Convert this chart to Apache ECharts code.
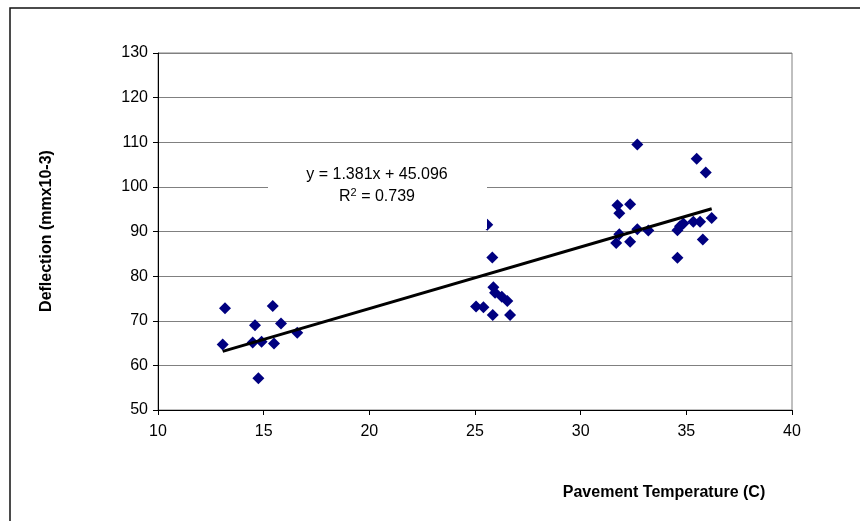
<!DOCTYPE html>
<html>
<head>
<meta charset="utf-8">
<script src="https://cdn.jsdelivr.net/npm/echarts@6/dist/echarts.min.js"></script>
<style>
  html, body { margin: 0; padding: 0; background: #fff; }
  #chart { width: 860px; height: 521px; }
</style>
</head>
<body>
<div id="chart"></div>
<script>
// Pavement temperature (C) and measured deflection (mm x 10^-3)
const temperature = [
  13.17, 15.43, 14.59, 15.82, 13.06, 14.48, 14.90, 15.49, 16.59, 14.75,
  25.58, 25.82, 25.87, 25.95, 26.27, 26.53, 25.05, 25.40, 25.84, 26.66,
  32.68, 35.49, 35.92, 31.74, 32.34, 31.83, 31.83, 31.68, 32.34, 32.68,
  33.20, 34.58, 34.70, 34.86, 35.33, 35.65, 36.20, 35.78, 34.58
];
const deflection = [
  72.8, 73.3, 69.0, 69.4, 64.7, 65.1, 65.3, 64.9, 67.3, 57.1,
  91.5, 84.2, 77.5, 76.3, 75.4, 74.4, 73.2, 73.0, 71.3, 71.3,
  109.5, 106.3, 103.2, 95.9, 96.1, 94.1, 89.4, 87.4, 87.7, 90.5,
  90.2, 90.3, 91.2, 91.8, 92.2, 92.2, 93.0, 88.2, 84.1
];

// Linear trend line
const slope = 1.381;
const intercept = 45.096;
const rSquared = 0.739;

// Axis ranges
const xTicks = { min: 10, max: 40, step: 5 };
const yTicks = { min: 50, max: 130, step: 10 };

const points = temperature.map((t, i) => [t, deflection[i]]);
const tMin = Math.min(...temperature);
const tMax = Math.max(...temperature);
const trend = [tMin, tMax].map(t => [t, slope * t + intercept]);

const chart = echarts.init(document.getElementById('chart'), null, { renderer: 'canvas' });
const font = 'Liberation Sans, Arial, sans-serif';

chart.setOption({
  animation: false,
  backgroundColor: '#ffffff',
  grid: { left: 158, right: 68, top: 53, bottom: 111, show: true, borderColor: '#808080', borderWidth: 1 },
  xAxis: {
    type: 'value',
    min: xTicks.min, max: xTicks.max, interval: xTicks.step,
    axisLine: { show: true, onZero: false, lineStyle: { color: '#000', width: 1 } },
    axisTick: { show: true, inside: false, length: 5, lineStyle: { color: '#000' } },
    axisLabel: { color: '#000', fontSize: 16, fontFamily: font, margin: 14 },
    splitLine: { show: false }
  },
  yAxis: {
    type: 'value',
    min: yTicks.min, max: yTicks.max, interval: yTicks.step,
    axisLine: { show: true, onZero: false, lineStyle: { color: '#000', width: 1 } },
    axisTick: { show: true, inside: false, length: 5, lineStyle: { color: '#000' } },
    axisLabel: { color: '#000', fontSize: 16, fontFamily: font, margin: 10 },
    splitLine: { show: true, lineStyle: { color: '#808080', width: 1 } }
  },
  series: [
    {
      type: 'scatter',
      data: points,
      symbol: 'diamond',
      symbolSize: 12,
      itemStyle: { color: '#000080', opacity: 1 },
      z: 2
    },
    {
      type: 'line',
      data: trend,
      symbol: 'none',
      lineStyle: { color: '#000', width: 3 },
      z: 3
    }
  ],
  graphic: [
    {
      type: 'rect',
      shape: { x: 10, y: 8, width: 900, height: 600 },
      style: { fill: 'none', stroke: '#111', lineWidth: 1.5 },
      z: 0, silent: true
    },
    {
      type: 'rect',
      shape: { x: 268, y: 162, width: 219, height: 67 },
      style: { fill: '#ffffff' },
      z: 10, silent: true
    },
    {
      type: 'text',
      x: 377, y: 175,
      style: {
        text: 'y = ' + slope.toFixed(3) + 'x + ' + intercept.toFixed(3),
        fill: '#000', font: '16px ' + font, align: 'center', verticalAlign: 'middle'
      },
      z: 11
    },
    {
      type: 'text',
      x: 377, y: 197,
      style: {
        text: 'R{sup|2} = ' + rSquared.toFixed(3),
        rich: { sup: { fontSize: 11, verticalAlign: 'top', padding: [0, 0, 8, 0], fill: '#000', fontFamily: font } },
        fill: '#000', font: '16px ' + font, align: 'center', verticalAlign: 'middle'
      },
      z: 11
    },
    {
      type: 'text',
      x: 47, y: 231,
      rotation: Math.PI / 2,
      style: {
        text: 'Deflection (mmx10-3)',
        fill: '#000', font: 'bold 16px ' + font, align: 'center', verticalAlign: 'middle'
      }
    },
    {
      type: 'text',
      x: 664, y: 493,
      style: {
        text: 'Pavement Temperature (C)',
        fill: '#000', font: 'bold 16px ' + font, align: 'center', verticalAlign: 'middle'
      }
    }
  ]
});
</script>
</body>
</html>
